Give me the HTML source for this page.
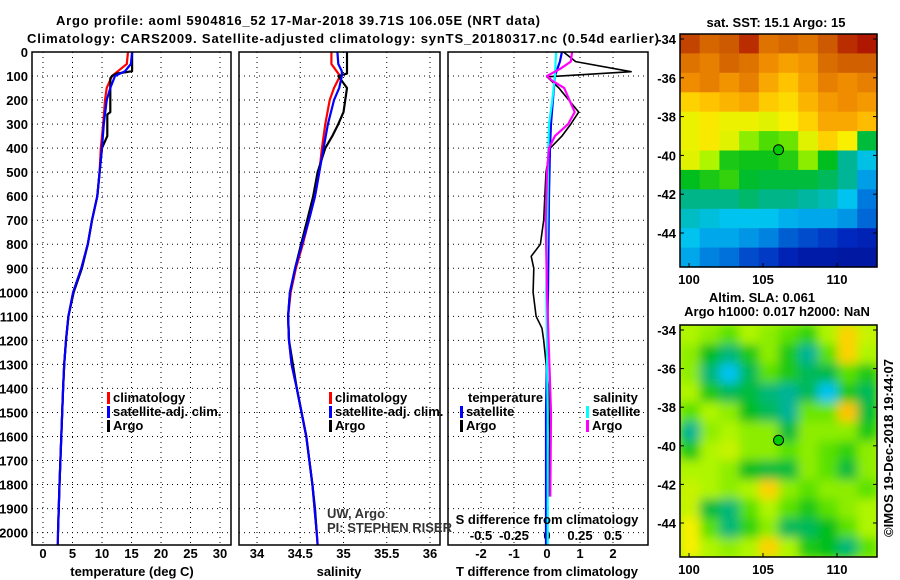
<!DOCTYPE html>
<html><head><meta charset="utf-8"><style>
body{margin:0;background:#fff;width:900px;height:580px;overflow:hidden}
svg{display:block;font-family:"Liberation Sans",sans-serif}
.b{font-weight:bold;font-size:13px}
</style></head><body>
<svg id="c" width="900" height="580" viewBox="0 0 900 580" xmlns="http://www.w3.org/2000/svg">
<defs><filter id="bl" x="0" y="0" width="1" height="1"><feGaussianBlur stdDeviation="5"/></filter>
<clipPath id="m2c"><rect x="680" y="325" width="197" height="232"/></clipPath></defs>
<g id="g"></g>
</svg>
<script>
// ---- data ----
const depthTicks=[0,100,200,300,400,500,600,700,800,900,1000,1100,1200,1300,1400,1500,1600,1700,1800,1900,2000];
const tTicks=[0,5,10,15,20,25,30];
const sTicks=[34,34.5,35,35.5,36];
const sTickLabels=["34","34.5","35","35.5","36"];
const dTTicks=[-2,-1,0,1,2];
const dSTicks=[-0.5,-0.25,0,0.25,0.5];
const dSTickLabels=["-0.5","-0.25","0","0.25","0.5"];

const argoDepth=[0,80,90,100,110,250,260,350,400,500,600,700,800,900,1000,1100,1200,1300,1400,1600,1800,2000];
const argoTemp=[15.1,15.1,12.5,11.7,11.4,11.4,10.9,10.9,10,9.6,9.2,8.3,7.6,6.6,5.2,4.3,3.9,3.6,3.4,3.1,2.8,2.55];
const argoSalDepth=[0,90,100,150,250,300,350,400,500,600,700,800,900,1000,1100,1200,1400,1600,1800,1900,2000];
const argoSal=[35.04,35.04,34.94,35.04,35.0,34.94,34.87,34.79,34.7,34.65,34.58,34.51,34.44,34.38,34.36,34.37,34.46,34.57,34.64,34.67,34.69];

const climDepth=[0,50,80,100,150,200,300,400,500,600,700,800,900,1000,1100,1200,1300,1400,1600,1800,2000,2050];
const climTemp=[14.4,14.2,12.7,11.7,10.8,10.5,10.2,9.8,9.6,9.2,8.3,7.6,6.5,5.1,4.3,3.9,3.6,3.4,3.1,2.8,2.55,2.5];
const satTemp=[15.1,14.9,13.9,12.2,11.4,10.8,10.3,10.0,9.6,9.2,8.3,7.6,6.5,5.1,4.3,3.9,3.6,3.4,3.1,2.8,2.55,2.5];
const climSal=[34.86,34.86,34.92,34.96,34.89,34.84,34.79,34.75,34.72,34.67,34.6,34.53,34.45,34.39,34.36,34.37,34.4,34.46,34.57,34.64,34.69,34.7];
const satSal=[34.93,34.94,34.98,34.98,34.95,34.89,34.82,34.77,34.72,34.67,34.6,34.52,34.44,34.38,34.36,34.37,34.4,34.46,34.57,34.64,34.69,34.7];

const dTArgoDepth=[0,40,82,103,150,250,300,350,400,500,700,800,850,900,1000,1100,1150,1200,1400,1600,1850];
const dTArgo=[0.5,0.87,2.55,0,0.36,0.96,0.72,0.45,0.1,-0.03,-0.1,-0.2,-0.48,-0.4,-0.42,-0.33,-0.15,-0.1,0.05,0.08,0.05];
const dSArgoDepth=[0,40,70,100,120,150,200,250,300,350,400,500,700,1000,1500,1850];
const dSArgo=[0.19,0.18,0.1,0,0.04,0.13,0.17,0.21,0.16,0.06,0.015,0,-0.01,0,0.03,0.025];
const dDepth=[0,40,100,200,300,400,600,1000,1500,2050];
const dTSat=[0.45,0.39,0.24,0.18,0.12,0.09,0.06,0.03,-0.03,-0.03];
const dSSat=[0.07,0.065,0.06,0.04,0.015,0.01,0.005,-0.005,0.005,0.005];

const sstGrid=[
[0.9,0.86,0.88,0.92,0.84,0.86,0.84,0.88,0.92,0.94],
[0.84,0.82,0.86,0.84,0.8,0.77,0.79,0.85,0.87,0.87],
[0.8,0.82,0.79,0.82,0.76,0.72,0.77,0.82,0.8,0.82],
[0.7,0.72,0.74,0.76,0.71,0.69,0.74,0.78,0.8,0.78],
[0.65,0.67,0.65,0.65,0.64,0.66,0.7,0.76,0.76,0.73],
[0.65,0.67,0.64,0.58,0.54,0.56,0.64,0.7,0.66,0.46],
[0.64,0.6,0.5,0.49,0.49,0.51,0.58,0.48,0.4,0.33],
[0.48,0.5,0.52,0.47,0.46,0.46,0.46,0.44,0.4,0.28],
[0.41,0.41,0.41,0.43,0.41,0.41,0.39,0.37,0.32,0.24],
[0.36,0.34,0.32,0.32,0.32,0.3,0.29,0.29,0.27,0.22],
[0.32,0.29,0.29,0.27,0.25,0.21,0.19,0.17,0.15,0.13],
[0.29,0.25,0.23,0.19,0.17,0.13,0.1,0.1,0.09,0.09]];
const slaGrid=[
[.6,.58,.55,.6,.58,.55,.52,.6,.7,.62],
[.58,.48,.42,.5,.58,.5,.4,.55,.7,.6],
[.58,.42,.32,.44,.55,.5,.44,.45,.55,.5],
[.6,.5,.44,.46,.42,.4,.44,.32,.5,.44],
[.55,.6,.58,.48,.44,.4,.56,.56,.72,.46],
[.4,.58,.6,.58,.58,.46,.58,.58,.58,.5],
[.5,.6,.62,.58,.58,.55,.58,.55,.52,.58],
[.6,.6,.58,.48,.46,.46,.58,.55,.46,.58],
[.62,.6,.58,.6,.7,.58,.55,.58,.58,.55],
[.62,.46,.42,.55,.6,.55,.5,.55,.58,.6],
[.66,.55,.42,.52,.58,.44,.44,.48,.55,.6],
[.66,.6,.58,.6,.7,.6,.5,.48,.42,.55]];
const lonTicks=[100,105,110];
const latTicks=[-34,-36,-38,-40,-42,-44];
const argoLon=106.05, argoLat=-39.71;

// ---- scales ----
const NS="http://www.w3.org/2000/svg";
const G=document.getElementById('g');
const TOP=52,BOT=545;
const yD=d=>TOP+d*0.2403;
const xT=t=>43+t*5.9;
const xS=s=>257+(s-34)*86.5;
const xDT=v=>547+v*33;
const xDS=v=>547+v*132;
const mx=lon=>689+(lon-100)*14.8;
const my1=lat=>39+(-34-lat)*19.4;
const my2=lat=>330+(-34-lat)*19.3;
function el(tag,attrs,txt){const e=document.createElementNS(NS,tag);for(const k in attrs)e.setAttribute(k,attrs[k]);if(txt!==undefined)e.textContent=txt;G.appendChild(e);return e;}
function txt(x,y,s,anchor,cls,extra){const e=el('text',Object.assign({x:x,y:y,'text-anchor':anchor||'start','class':cls||'b'},extra||{}),s);return e;}
function line(xs,ds,fx,color,w){let p='';for(let i=0;i<xs.length;i++)p+=(i?'L':'M')+fx(xs[i]).toFixed(1)+','+yD(ds[i]).toFixed(1);return el('path',{d:p,fill:'none',stroke:color,'stroke-width':w||2.2,'stroke-linejoin':'round'});}

// panels
const panels=[[32,231,'temperature-panel'],[239,440,'salinity-panel'],[448,648,'difference-panel']];
panels.forEach(p=>{
  depthTicks.forEach(d=>{if(d>0){const g=el('line',{x1:p[0],x2:p[1],y1:yD(d),y2:yD(d),stroke:'#000','stroke-dasharray':'1 4','stroke-width':1});}});
});
tTicks.forEach(t=>{const g=el('line',{x1:xT(t),x2:xT(t),y1:TOP,y2:BOT,stroke:'#000','stroke-dasharray':'1 4'});
 const l=txt(xT(t),558,String(t),'middle');});
sTicks.forEach((s,i)=>{const g=el('line',{x1:xS(s),x2:xS(s),y1:TOP,y2:BOT,stroke:'#000','stroke-dasharray':'1 4'});
 const l=txt(xS(s),558,sTickLabels[i],'middle');});
dTTicks.forEach(v=>{const g=el('line',{x1:xDT(v),x2:xDT(v),y1:TOP,y2:BOT,stroke:'#000','stroke-dasharray':'1 4'});
 const l=txt(xDT(v),558,String(v),'middle');});
dSTicks.forEach((v,i)=>{const l=txt(xDS(v),540,dSTickLabels[i],'middle');});
depthTicks.forEach(d=>{const l=txt(28,yD(d)+5,String(d),'end');});

// series
let s;
s=line(climTemp,climDepth,xT,'#f00');
s=line(argoTemp,argoDepth,xT,'#000');
s=line(satTemp,climDepth,xT,'#00f');
s=line(climSal,climDepth,xS,'#f00');
s=line(argoSal,argoSalDepth,xS,'#000');
s=line(satSal,climDepth,xS,'#00f');
s=line(dTArgo,dTArgoDepth,xDT,'#000',1.6);
s=line(dTSat,dDepth,xDT,'#00f');
s=line(dSSat,dDepth,xDS,'#0ff');
s=line(dSArgo,dSArgoDepth,xDS,'#f0f');

panels.forEach(p=>{const r=el('rect',{x:p[0],y:TOP,width:p[1]-p[0],height:BOT-TOP,fill:'none',stroke:'#000','stroke-width':1.5});});

// legends
function leg(x,y,color,label,name){const b=el('rect',{x:x,y:y-10,width:3,height:12,fill:color});const t=txt(x+6,y,label);}
leg(107,402,'#f00','climatology','legend-climatology');
leg(107,416,'#00f','satellite-adj. clim.','legend-satellite');
leg(107,430,'#000','Argo','legend-argo');
leg(329,402,'#f00','climatology','legend-sal-climatology');
leg(329,416,'#00f','satellite-adj. clim.','legend-sal-satellite');
leg(329,430,'#000','Argo','legend-sal-argo');
s=txt(468,402,'temperature');
s=txt(593,402,'salinity');
leg(460,416,'#00f','satellite','legend-t-satellite');
leg(460,430,'#000','Argo','legend-t-argo');
leg(586,416,'#0ff','satellite','legend-s-satellite');
leg(586,430,'#f0f','Argo','legend-s-argo');
s=txt(327,518,'UW, Argo','start','');s.setAttribute('font-size','12');s.setAttribute('fill','#333');
s=txt(327,532,'PI: STEPHEN RISER','start','');s.setAttribute('font-size','12');s.setAttribute('fill','#333');
s=txt(547,524,'S difference from climatology','middle');
s=txt(132,576,'temperature (deg C)','middle');
s=txt(339,576,'salinity','middle');
s=txt(547,576,'T difference from climatology','middle');
s=txt(298,25,'Argo profile: aoml 5904816_52 17-Mar-2018 39.71S 106.05E (NRT data)','middle','b',{textLength:484,'font-size':14});
s=txt(343,43,'Climatology: CARS2009. Satellite-adjusted climatology: synTS_20180317.nc (0.54d earlier)','middle','b',{textLength:632,'font-size':14});

// maps
const stops=[[0,[0,0,120]],[0.15,[0,40,190]],[0.25,[0,130,225]],[0.32,[0,195,240]],[0.4,[0,180,150]],[0.48,[0,190,30]],[0.55,[90,225,0]],[0.6,[175,245,0]],[0.66,[248,240,0]],[0.72,[255,195,0]],[0.8,[240,140,0]],[0.88,[205,90,0]],[0.96,[165,0,0]],[1,[150,0,0]]];
function cmap(v){v=Math.max(0,Math.min(1,v));for(let i=1;i<stops.length;i++){if(v<=stops[i][0]){const a=stops[i-1],b=stops[i],f=(v-a[0])/(b[0]-a[0]);return 'rgb('+a[1].map((c,k)=>Math.round(c+(b[1][k]-c)*f)).join(',')+')';}}return 'rgb(150,0,0)';}
function drawMap(grid,x0,y0,w,h,name,blur){
  const rows=grid.length,cols=grid[0].length,cw=w/cols,ch=h/rows;
  const grp=document.createElementNS(NS,'g');
  if(blur){grp.setAttribute('filter','url(#bl)');}
  grid.forEach((row,i)=>row.forEach((v,j)=>{const r=document.createElementNS(NS,'rect');
    r.setAttribute('x',(x0+j*cw).toFixed(1));r.setAttribute('y',(y0+i*ch).toFixed(1));r.setAttribute('width',(cw+0.6).toFixed(1));r.setAttribute('height',(ch+0.6).toFixed(1));r.setAttribute('fill',cmap(v));
    
    
    grp.appendChild(r);}));
  if(blur){const c=document.createElementNS(NS,'g');c.setAttribute('clip-path','url(#m2c)');const bg=document.createElementNS(NS,'rect');bg.setAttribute('x',x0);bg.setAttribute('y',y0);bg.setAttribute('width',w);bg.setAttribute('height',h);bg.setAttribute('fill',cmap(0.6));c.appendChild(bg);c.appendChild(grp);G.appendChild(c);}
  else G.appendChild(grp);
  const f=el('rect',{x:x0,y:y0,width:w,height:h,fill:'none',stroke:'#000','stroke-width':1.5});
}
drawMap(sstGrid,680,34,197,233,'sst-map',false);
drawMap(slaGrid,680,325,197,232,'sla-map',true);
[[my1,267,282],[my2,557,572]].forEach(m=>{
  lonTicks.forEach(l=>{el('line',{x1:mx(l),x2:mx(l),y1:m[1],y2:m[1]-4,stroke:'#000'});const t=txt(mx(l),m[2]+2,String(l),'middle');});
  latTicks.forEach(l=>{const y=m[0](l);el('line',{x1:877,x2:873,y1:y,y2:y,stroke:'#000'});el('line',{x1:680,x2:684,y1:y,y2:y,stroke:'#000'});const t=txt(676,y+5,String(l),'end');});
});
s=el('circle',{cx:mx(argoLon),cy:my1(argoLat),r:5,fill:'#0c0',stroke:'#000','stroke-width':1});
s=el('circle',{cx:mx(argoLon),cy:my2(argoLat),r:5,fill:'#0c0',stroke:'#000','stroke-width':1});
s=txt(776,27,'sat. SST: 15.1 Argo: 15','middle');
s=txt(762,302,'Altim. SLA: 0.061','middle');
s=txt(777,316,'Argo h1000: 0.017 h2000: NaN','middle');
s=txt(0,0,'©IMOS 19-Dec-2018 19:44:07','middle','',{transform:'translate(893,448) rotate(-90)','font-size':'13'});
</script>
</body></html>
